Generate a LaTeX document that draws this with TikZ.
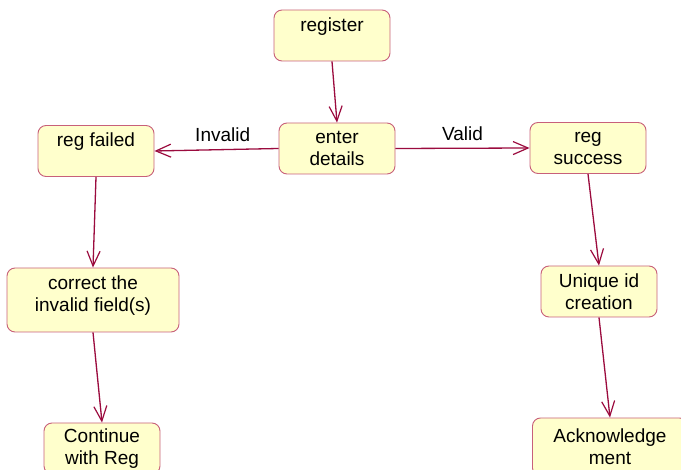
\documentclass[tikz,border=0pt]{standalone}
\usepackage{fontspec}
\setmainfont{Liberation Sans}
\usepackage{tikz}
\usetikzlibrary{positioning, arrows, arrows.meta}
\definecolor{statefill}{HTML}{FFFFCC}
\definecolor{stateline}{HTML}{C8607A}
\definecolor{transline}{HTML}{9B0B3E}
\tikzset{
    state/.style={draw=stateline, fill=statefill, rounded corners=8pt, line width=0.9pt,
        minimum width=116pt, minimum height=51pt, inner sep=0pt, align=center,
        font=\fontsize{19}{22}\selectfont},
    trans/.style={draw=transline, line width=1.3pt,
        -{Straight Barb[length=15pt, width=13pt, line width=1.2pt]}},
    guard/.style={font=\fontsize{19}{22}\selectfont, text=black}
}

\begin{document}
\begin{tikzpicture}[x=1pt, y=-1pt]
    \useasboundingbox (0,0) rectangle (681,470);

    % states
    \node[state] (register) at (332,35.5) {register\\~};
    \node[state] (enter) at (337,148.5) {enter\\details};
    \node[state] (failed) at (96,151) {reg failed\\~};
    \node[state] (success) at (588,148) {reg\\success};
    \node[state, minimum width=172pt, minimum height=64pt] (correct) at (93,300) {correct the\\invalid field(s)\\[-9pt]~};
    \node[state] (unique) at (599,291.5) {Unique id\\creation};
    \node[state] (continue) at (102,448.5) {Continue\\with Reg};
    \node[state, minimum width=155pt, minimum height=58pt] (ack) at (610,447) {Acknowledge\\ment};

    % transitions
    \draw[trans] (register.south) -- (enter.north);
    \draw[trans] (enter.west) -- node[guard, pos=0.45, above=4pt] {Invalid} (failed.east);
    \draw[trans] (enter.east) -- node[guard, above=4pt] {Valid} (success.west);
    \draw[trans] (failed.south) -- (correct.north);
    \draw[trans] (correct.south) -- (continue.north);
    \draw[trans] (success.south) -- (unique.north);
    \draw[trans] (unique.south) -- (ack.north);
\end{tikzpicture}
\end{document}
